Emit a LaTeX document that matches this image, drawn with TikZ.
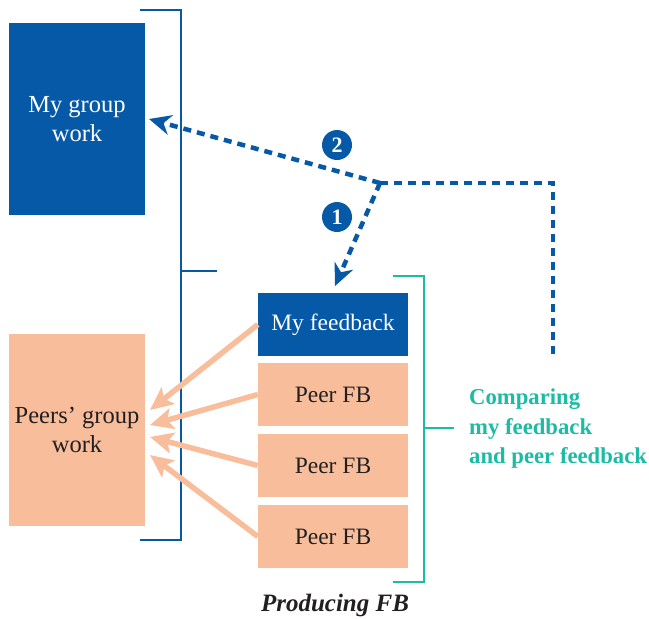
\documentclass[tikz,border=0pt]{standalone}
\usepackage{fontspec}
\setmainfont{Liberation Serif}
\usetikzlibrary{arrows.meta}
\definecolor{dblue}{HTML}{0559A6}
\definecolor{peach}{HTML}{F8BE9C}
\definecolor{teal2}{HTML}{1CBBA5}
\definecolor{ink}{HTML}{231F20}
\tikzset{
  bluebox/.style={rectangle, fill=dblue, text=white, inner sep=0pt, align=center},
  peachbox/.style={rectangle, fill=peach, text=ink, inner sep=0pt, align=center},
  bigbox/.style={minimum width=136pt, minimum height=192pt, font=\fontsize{24.5}{29}\selectfont},
  fbbox/.style={minimum width=150pt, minimum height=63pt, font=\fontsize{23.5}{28}\selectfont},
  dashline/.style={draw=dblue, line width=4.5pt, dash pattern=on 8pt off 6pt},
  dashtip/.style={-{Stealth[length=22pt,width=20pt,inset=7pt]}},
  peacharrow/.style={draw=peach, line width=5.5pt, -{Stealth[length=23pt,width=21pt,inset=5pt]}},
  numcirc/.style={circle, fill=dblue, text=white, inner sep=0pt, minimum size=30pt, font=\bfseries\fontsize{22}{22}\selectfont},
  bracketblue/.style={draw=dblue, line width=2.3pt},
  bracketteal/.style={draw=teal2, line width=2.3pt},
}
\begin{document}
\begin{tikzpicture}[x=1pt,y=-1pt]
\useasboundingbox (0,0) rectangle (649,619);
% boxes
\node[bluebox,bigbox] (mgw) at (77,119) {My group\\work};
\node[peachbox,bigbox] (pgw) at (77,430) {Peers’ group\\work};
\node[bluebox,fbbox] (myfb) at (333,324.5) {My feedback};
\node[peachbox,fbbox] (pfb1) at (333,394.5) {Peer FB};
\node[peachbox,fbbox] (pfb2) at (333,465.5) {Peer FB};
\node[peachbox,fbbox] (pfb3) at (333,536.5) {Peer FB};
% blue bracket
\draw[bracketblue] (140,10) -- (181,10) -- (181,540) -- (140,540);
\draw[bracketblue] (181,271) -- (217,271);
% teal bracket
\draw[bracketteal] (393,276) -- (424,276) -- (424,582) -- (393,582);
\draw[bracketteal] (424,428) -- (454,428);
\node[text=teal2, anchor=west, align=left, inner sep=0pt, font=\bfseries\fontsize{22.7}{29.5}\selectfont] (cmp) at (469,429) {Comparing\\my feedback\\and peer feedback};
\node[text=ink, font=\bfseries\itshape\fontsize{25}{28}\selectfont] (prod) at (335,605) {Producing FB};
% peach arrows
\coordinate (e1) at (150,410);
\coordinate (e2) at (150,425);
\coordinate (e3) at (150,437);
\coordinate (e4) at (150,455);
\draw[peacharrow] (myfb.west) -- (e1);
\draw[peacharrow] (pfb1.west) -- (e2);
\draw[peacharrow] (pfb2.west) -- (e3);
\draw[peacharrow] (pfb3.west) -- (e4);
% dashed arrows
\coordinate (J) at (380,183);
\coordinate (t2) at (149,119);
\coordinate (t1) at (335,286);
\coordinate (rc) at (553,183);
\coordinate (re) at (553,356);
\draw[dashline] (J) -- (rc) -- (re);
\draw[dashline,dashtip] (J) -- (t2);
\draw[dashline,dashtip] (J) -- (t1);
\node[numcirc] (n2) at (337,145) {2};
\node[numcirc] (n1) at (337,217) {1};
\end{tikzpicture}
\end{document}
